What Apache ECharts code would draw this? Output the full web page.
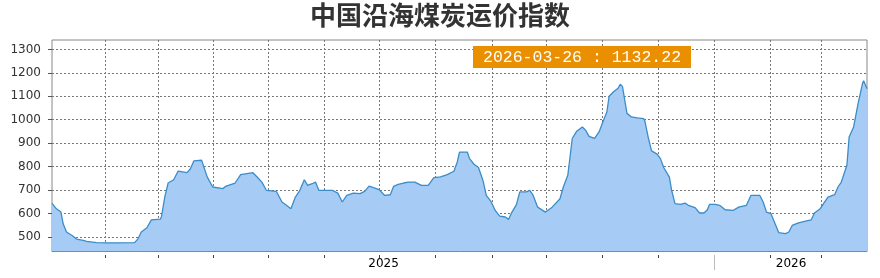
<!DOCTYPE html>
<html><head><meta charset="utf-8">
<script src="https://cdn.jsdelivr.net/npm/echarts@6/dist/echarts.min.js"></script>
<style>html,body{margin:0;padding:0;background:#fff}#c{width:880px;height:278px}</style>
</head><body><div id="c"></div>
<script>
const TITLE = '中国沿海煤炭运价指数';
const START_DATE = '2024-03-26';
const END_DATE = '2026-03-26';
const LAST_DATE = '2026-03-26';
const LAST_VALUE = 1132.22;
// days since START_DATE
const dayOffsets = [0,4,8,10,13,18,22,28,31,40,49,58,74,77,80,85,89,97,98,101,104,109,113,121,124,127,134,139,144,153,156,164,169,180,185,188,192,201,206,210,214,218,222,226,229,233,236,239,251,256,260,264,270,276,280,284,288,293,298,303,306,310,315,319,325,331,337,342,348,354,360,363,365,372,374,378,382,386,389,393,397,401,406,409,412,416,419,425,428,431,435,442,448,455,458,462,464,466,470,475,478,481,486,490,494,497,499,503,507,509,511,515,519,524,530,531,534,537,542,545,548,553,555,558,563,567,570,576,580,584,587,589,594,598,603,610,615,622,626,634,637,640,644,651,657,660,663,668,674,680,683,688,691,695,701,704,707,712,714,718,722,726,727,730];
const indexValues = [643,620,606,556,521,506,491,485,481,476,475,475,476,492,521,539,573,576,585,670,730,744,781,774,791,824,827,756,713,706,717,730,766,774,749,734,699,694,649,635,620,670,699,744,720,727,734,699,699,687,649,677,687,685,694,717,710,702,677,680,716,724,730,734,734,720,720,753,756,766,780,820,862,862,834,810,796,741,677,653,613,589,585,575,606,638,692,692,699,677,627,606,627,663,713,763,841,920,951,969,955,929,920,948,998,1033,1100,1119,1134,1151,1141,1027,1012,1008,1005,995,926,867,853,834,795,755,699,642,639,644,635,625,602,602,616,639,639,635,616,613,627,635,677,677,649,606,599,518,514,521,549,559,566,573,602,620,642,670,680,713,734,806,926,969,1069,1155,1166,1132.22];
const xTickDates = ['2024-05-13','2024-06-29','2024-08-17','2024-10-06','2024-11-25','2025-01-13','2025-03-04','2025-04-24','2025-06-12','2025-08-01','2025-09-20','2025-11-09','2025-12-29','2026-02-13'];
const yearLabelDates = ['2025-01-17','2026-01-17'];
const markerTickDates = ['2025-11-09'];
const yTicks = [500,600,700,800,900,1000,1100,1200,1300];

const DAY = 86400000;
function ts(s){const p=s.split('-').map(Number);return Date.UTC(p[0],p[1]-1,p[2]);}
const t0 = ts(START_DATE);
function dayOf(s){return Math.round((ts(s)-t0)/DAY);}
function yearOf(d){return new Date(t0 + d*DAY).getUTCFullYear();}
const xMax = dayOf(END_DATE);
const seriesData = dayOffsets.map((d,i)=>[d, indexValues[i]]);
const xTickDays = xTickDates.map(dayOf);

const chart = echarts.init(document.getElementById('c'), null, {renderer:'canvas'});
chart.setOption({
  animation:false,
  backgroundColor:'#fff',
  title:[
    {text:TITLE, left:'center', top:2, padding:0,
     textStyle:{fontFamily:'Noto Sans CJK SC', fontSize:26, fontWeight:'bold', color:'#333'}},
    {text:LAST_DATE+' : '+LAST_VALUE.toFixed(2), left:473, top:46, padding:[3,10,2,10],
     backgroundColor:'#E98F00',
     textStyle:{fontFamily:'Liberation Mono', fontSize:16.5, fontWeight:'normal', color:'#fff', lineHeight:17}}
  ],
  grid:{left:52, right:13, top:40, bottom:27, show:true, borderColor:'#888', borderWidth:1, outerBoundsMode:'none'},
  xAxis:[
    {type:'value', position:'bottom', min:0, max:xMax,
     axisLine:{show:true, onZero:false, lineStyle:{color:'#888'}},
     axisTick:{show:false, customValues:xTickDays},
     splitLine:{show:true, lineStyle:{color:'#777', type:[2,2]}},
     axisLabel:{customValues:yearLabelDates.map(dayOf), formatter:v=>String(yearOf(v)),
       margin:7, color:'#000', fontFamily:'DejaVu Sans', fontSize:12, showMinLabel:true, showMaxLabel:true}},
    {type:'value', position:'bottom', min:0, max:xMax, offset:4,
     axisLine:{show:false, onZero:false}, axisTick:{show:true, customValues:xTickDays, length:3, lineStyle:{color:'#444'}},
     axisLabel:{show:false}, splitLine:{show:false}},
    {type:'value', position:'bottom', min:0, max:xMax, offset:4,
     axisLine:{show:false, onZero:false}, axisTick:{show:true, customValues:markerTickDates.map(dayOf), length:15, lineStyle:{color:'#bbb'}},
     axisLabel:{show:false}, splitLine:{show:false}}
  ],
  yAxis:{type:'value', min:440, max:1340, offset:3,
    axisLine:{show:false},
    axisTick:{show:true, length:4, customValues:yTicks, lineStyle:{color:'#555'}},
    axisLabel:{customValues:yTicks, formatter:v=>String(v), margin:8, color:'#333', fontFamily:'DejaVu Sans', fontSize:12},
    splitLine:{show:true, lineStyle:{color:'#777', type:[2,2]}}},
  series:[{type:'line', xAxisIndex:0, data:seriesData, showSymbol:false, symbol:'none',
    lineStyle:{color:'#3a8dc8', width:1.3},
    areaStyle:{color:'#a6cbf5', opacity:1, origin:'start'}}]
});
</script></body></html>
